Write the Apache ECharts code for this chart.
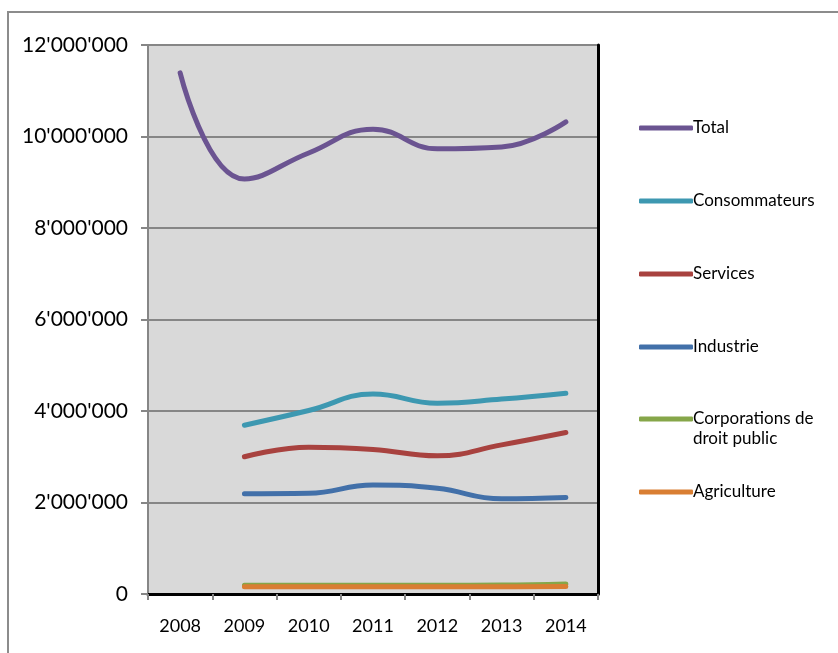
<!DOCTYPE html>
<html>
<head>
<meta charset="utf-8">
<script src="https://cdn.jsdelivr.net/npm/echarts@6/dist/echarts.min.js"></script>
<style>
html,body{margin:0;padding:0;background:#fff;}
#c{width:838px;height:653px;}
</style>
</head>
<body>
<div id="c"></div>
<script>
const years = ['2008','2009','2010','2011','2012','2013','2014'];
const total = [11390000, 9070000, 9640000, 10160000, 9730000, 9770000, 10320000];
const consommateurs = [null, 3690000, 4010000, 4370000, 4170000, 4260000, 4390000];
const services = [null, 3000000, 3210000, 3160000, 3020000, 3260000, 3530000];
const industrie = [null, 2190000, 2200000, 2380000, 2310000, 2080000, 2110000];
const corporations = [null, 190000, 190000, 190000, 190000, 195000, 220000];
const agriculture = [null, 160000, 160000, 160000, 160000, 160000, 165000];
const yTicks = [0, 2000000, 4000000, 6000000, 8000000, 10000000, 12000000];

const seriesDefs = [
  {name:'Total', data: total, color:'#6b5491'},
  {name:'Consommateurs', data: consommateurs, color:'#3d98b1'},
  {name:'Services', data: services, color:'#a8423f'},
  {name:'Industrie', data: industrie, color:'#4270a9'},
  {name:'Corporations de droit public', data: corporations, color:'#86a649'},
  {name:'Agriculture', data: agriculture, color:'#d97e33'}
];
const legendTops = [113, 186, 259, 332, 384, 477];

function fmt(v){
  return String(v).replace(/\B(?=(\d{3})+(?!\d))/g, "'");
}

const FONT = 'Lato, "Open Sans", sans-serif';
const chart = echarts.init(document.getElementById('c'), null, {renderer:'canvas'});
chart.setOption({
  animation:false,
  backgroundColor:'#fff',
  graphic:[{
    type:'polyline',
    shape:{points:[[8,660],[8,12],[840,12]]},
    style:{stroke:'#8c8c8c', lineWidth:2, fill:null},
    silent:true
  }],
  grid:{left:148, right:240, top:45, bottom:59, show:true, backgroundColor:'#d9d9d9', borderWidth:0},
  legend: seriesDefs.map((s,i)=>({
    data:[s.name],
    left:634,
    top:legendTops[i],
    orient:'vertical',
    itemWidth:54,
    itemHeight:5,
    itemGap:0,
    icon:'roundRect',
    selectedMode:false,
    formatter: n => n === 'Corporations de droit public' ? '\nCorporations de\ndroit public' : n,
    textStyle:{fontFamily:FONT, fontSize:17, color:'#000', lineHeight:20, padding:[0,0,0,-5]}
  })),
  xAxis:[{
    type:'category',
    data:years,
    boundaryGap:true,
    axisLine:{lineStyle:{color:'#868686', width:2}},
    axisTick:{show:true, length:6, lineStyle:{color:'#868686', width:2}, alignWithLabel:false},
    axisLabel:{fontFamily:FONT, fontSize:18, color:'#000', margin:23},
    splitLine:{show:false}
  },{
    type:'category',
    data:years,
    position:'top',
    axisLine:{show:true, lineStyle:{color:'#000', width:3}},
    axisTick:{show:false},
    axisLabel:{show:false},
    splitLine:{show:false}
  }],
  yAxis:[{
    type:'value',
    min:yTicks[0],
    max:yTicks[yTicks.length-1],
    interval:yTicks[1]-yTicks[0],
    axisLine:{show:true, lineStyle:{color:'#868686', width:2}},
    axisTick:{show:true, length:7, lineStyle:{color:'#868686', width:2}},
    axisLabel:{fontFamily:FONT, fontSize:21, color:'#000', margin:20, formatter: v => fmt(v)},
    splitLine:{show:true, lineStyle:{color:'#868686', width:2}}
  },{
    type:'value',
    position:'right',
    min:yTicks[0],
    max:yTicks[yTicks.length-1],
    interval:yTicks[1]-yTicks[0],
    axisLine:{show:true, lineStyle:{color:'#000', width:3}},
    axisTick:{show:false},
    axisLabel:{show:false},
    splitLine:{show:false}
  }],
  series: seriesDefs.map(s=>({
    name:s.name,
    type:'line',
    data:s.data,
    smooth:0.45,
    symbol:'none',
    connectNulls:false,
    color:s.color,
    lineStyle:{color:s.color, width:5, cap:'round', join:'round'},
    itemStyle:{color:s.color}
  }))
});
</script>
</body>
</html>
